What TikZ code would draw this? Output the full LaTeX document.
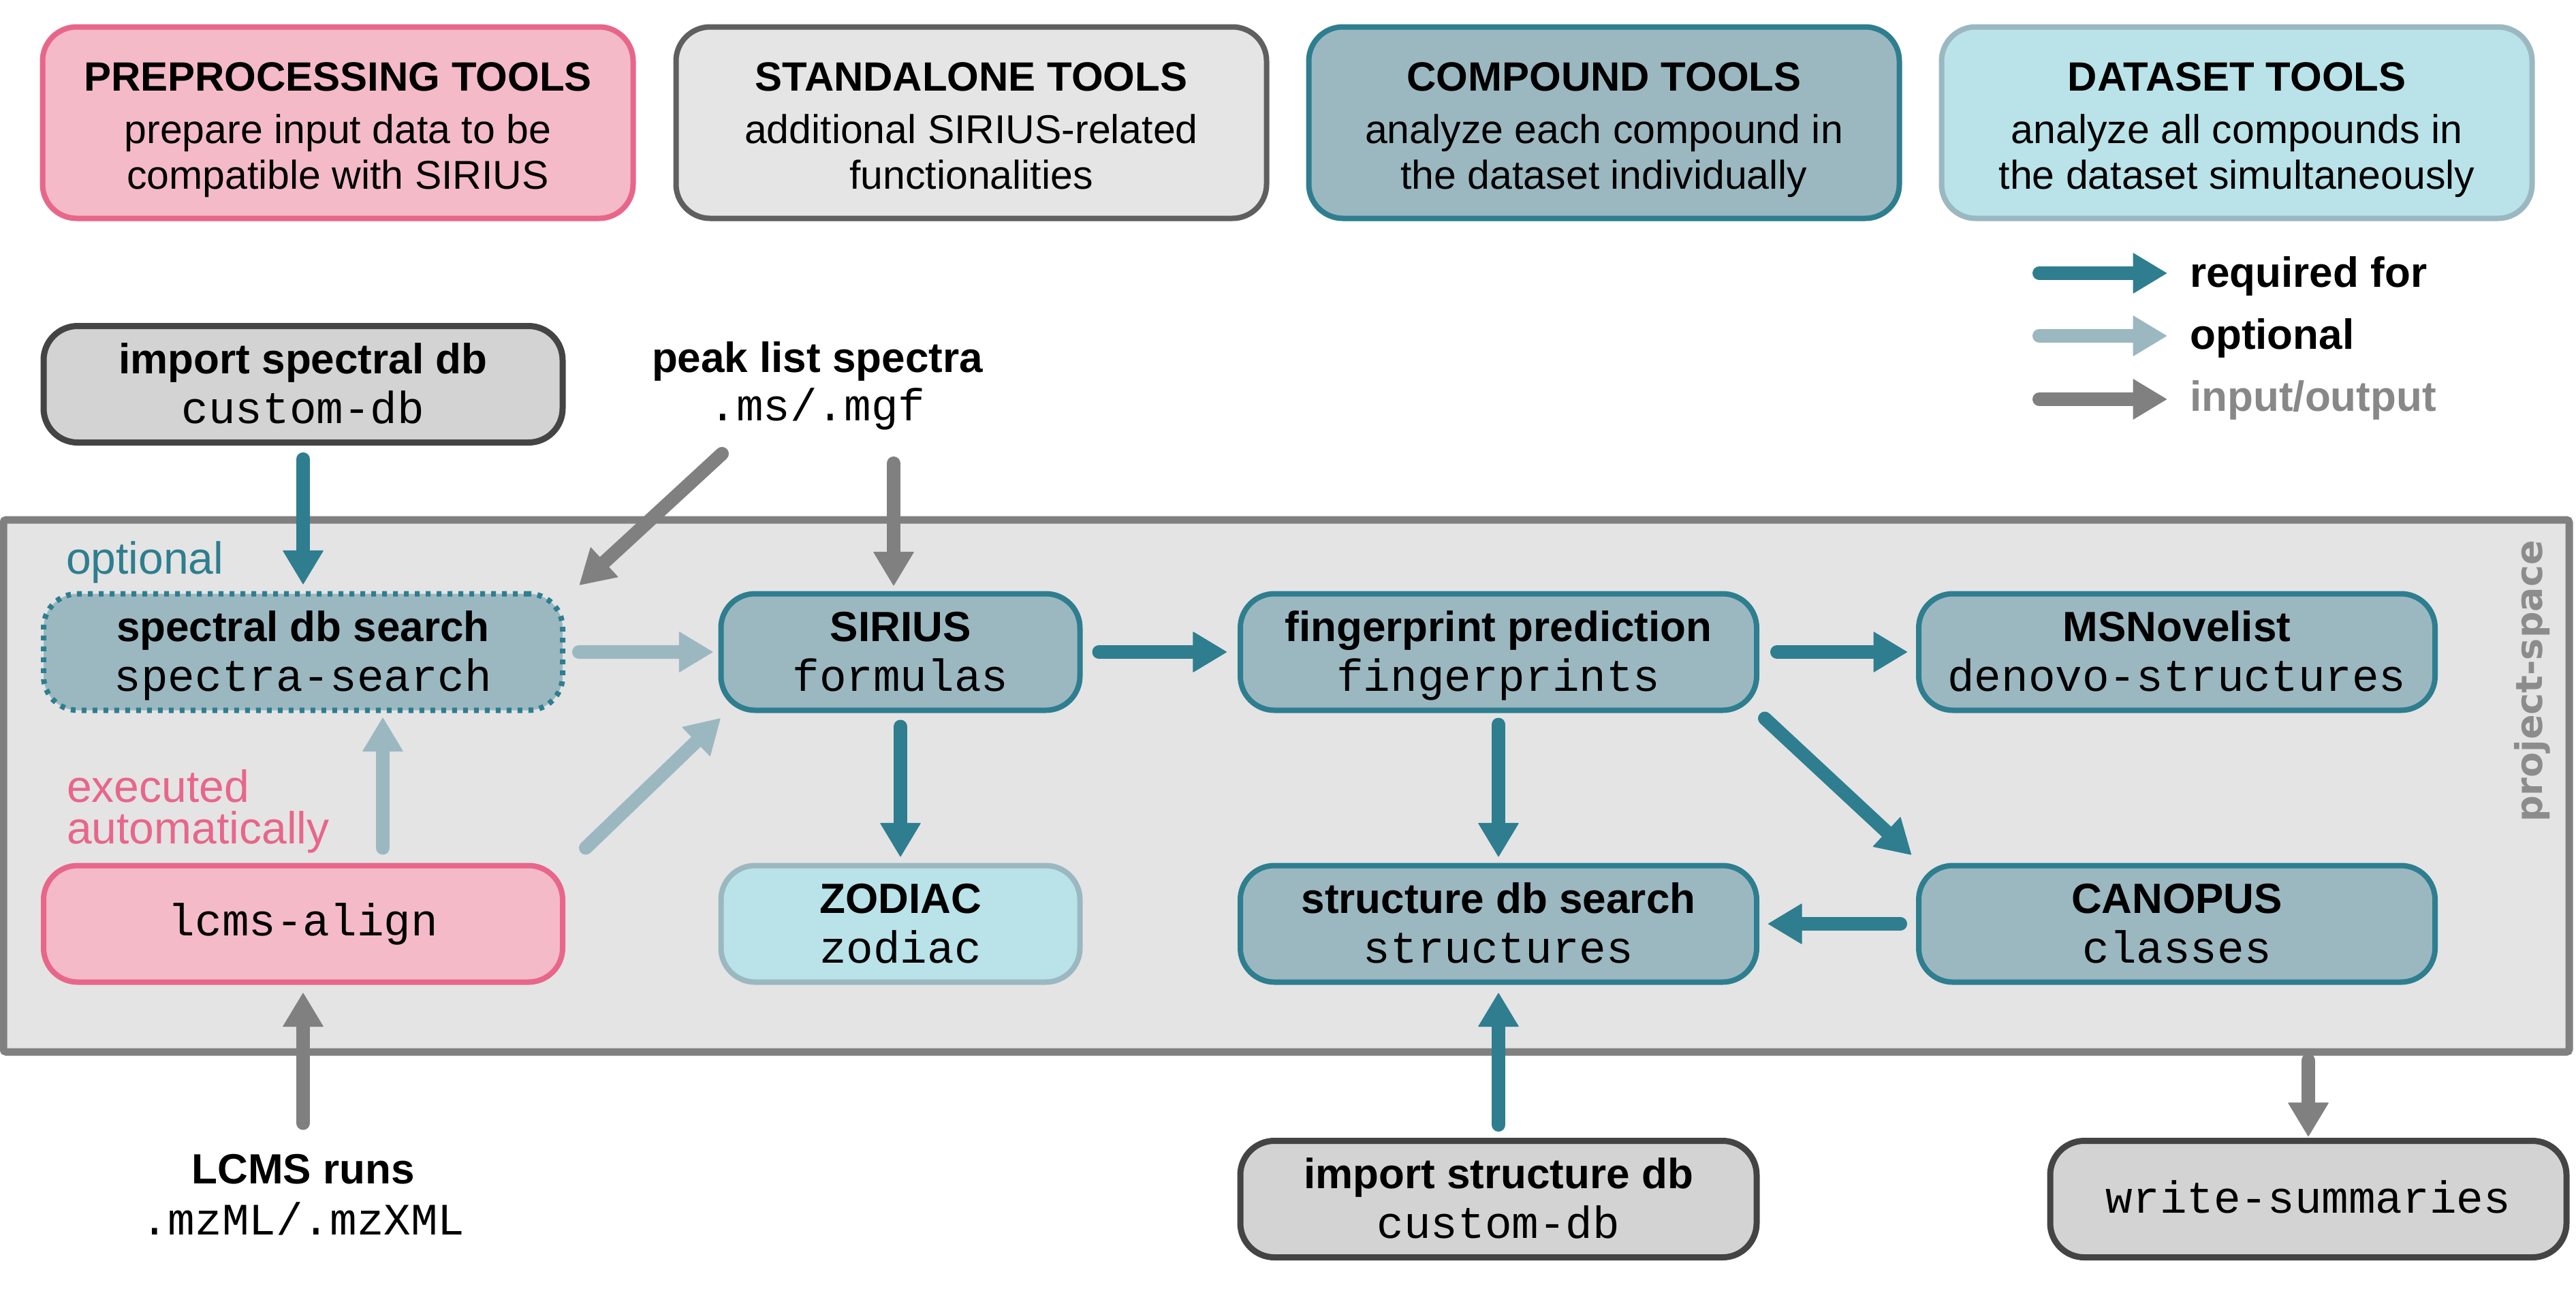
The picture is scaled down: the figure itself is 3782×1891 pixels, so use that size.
\documentclass[tikz,border=0pt]{standalone}
\usepackage{fontspec}
\setmainfont{Liberation Sans}
\newfontfamily\monofont{Liberation Mono}
\newfontfamily\psfamily{DejaVu Sans}
\usetikzlibrary{arrows.meta,calc}
\definecolor{sTeal}{HTML}{2E7E8F}
\definecolor{sLight}{HTML}{9BB8C1}
\definecolor{sData}{HTML}{B9E3E8}
\definecolor{sPink}{HTML}{F4BAC8}
\definecolor{sPinkD}{HTML}{E8668A}
\definecolor{sStandF}{HTML}{E5E5E5}
\definecolor{sStandD}{HTML}{5F5F5F}
\definecolor{sGrayF}{HTML}{D3D3D3}
\definecolor{sGrayD}{HTML}{444444}
\definecolor{sPsF}{HTML}{E4E4E4}
\definecolor{sPsD}{HTML}{808080}
\definecolor{sIO}{HTML}{808080}
\definecolor{sIOText}{HTML}{888888}
\definecolor{sPsT}{HTML}{8C8C8C}
\tikzset{
  box/.style={rectangle, rounded corners=50pt, line width=8pt, inner sep=0pt, minimum height=171pt},
  cmpbox/.style={box, fill=sLight, draw=sTeal},
  databox/.style={box, fill=sData, draw=sLight},
  prebox/.style={box, fill=sPink, draw=sPinkD},
  standbox/.style={box, fill=sStandF, draw=sStandD},
  graybox/.style={box, fill=sGrayF, draw=sGrayD, line width=9pt},
  optbox/.style={box, fill=sLight, draw=sTeal, line width=8pt, dash pattern=on 7pt off 9pt},
  hdrbox/.style={minimum width=867pt, minimum height=281pt},
  ttl/.style={inner sep=0pt, font=\fontsize{62}{70}\selectfont\bfseries},
  mono/.style={inner sep=0pt, font=\fontsize{66}{74}\selectfont\monofont},
  hdrttl/.style={inner sep=0pt, anchor=base, font=\fontsize{60}{70}\selectfont\bfseries},
  hdrdesc/.style={inner sep=0pt, anchor=base, font=\fontsize{59}{68}\selectfont},
  lbl/.style={inner sep=0pt, anchor=base west, font=\fontsize{66}{72}\selectfont},
  legtxt/.style={inner sep=0pt, anchor=base west, font=\fontsize{62}{70}\selectfont\bfseries},
  conn/.style={line width=20pt, line cap=round, -{Triangle[length=50pt,width=60pt,line width=1pt,round]}},
  req/.style={conn, color=sTeal},
  opt/.style={conn, color=sLight},
  io/.style={conn, color=sIO}
}
\newcommand\flowbox[7]{%
  \node[#2, minimum width=#5pt] (#1) at (#3,#4) {};
  \node[ttl, anchor=base] (#1-t) at ($(#1.center)+(0,-16)$) {#6};
  \node[mono, anchor=base] (#1-m) at ($(#1.center)+(0,57)$) {#7};
}
\begin{document}
\begin{tikzpicture}[x=1pt,y=-1pt]
\useasboundingbox (0,0) rectangle (3782,1891);
\fill[white] (0,0) rectangle (3782,1891);

% header boxes
\node[prebox, hdrbox] (h1) at (496,180) {};
\node[hdrttl] (h1t) at (496,133) {PREPROCESSING TOOLS};
\node[hdrdesc] (h1a) at (496,210) {prepare input data to be};
\node[hdrdesc] (h1b) at (496,277) {compatible with SIRIUS};

\node[standbox, hdrbox] (h2) at (1426,180) {};
\node[hdrttl] (h2t) at (1426,133) {STANDALONE TOOLS};
\node[hdrdesc] (h2a) at (1426,210) {additional SIRIUS-related};
\node[hdrdesc] (h2b) at (1426,277) {functionalities};

\node[cmpbox, hdrbox] (h3) at (2355,180) {};
\node[hdrttl] (h3t) at (2355,133) {COMPOUND TOOLS};
\node[hdrdesc] (h3a) at (2355,210) {analyze each compound in};
\node[hdrdesc] (h3b) at (2355,277) {the dataset individually};

\node[databox, hdrbox] (h4) at (3284,180) {};
\node[hdrttl] (h4t) at (3284,133) {DATASET TOOLS};
\node[hdrdesc] (h4a) at (3284,210) {analyze all compounds in};
\node[hdrdesc] (h4b) at (3284,277) {the dataset simultaneously};

% legend
\node[legtxt] (lg1) at (3215,421) {required for};
\node[legtxt] (lg2) at (3215,512) {optional};
\node[legtxt, text=sIOText] (lg3) at (3215,603) {input/output};
\coordinate (lg1s) at (2994,401); \coordinate (lg1e) at (3181,401);
\coordinate (lg2s) at (2994,493); \coordinate (lg2e) at (3181,493);
\coordinate (lg3s) at (2994,586); \coordinate (lg3e) at (3181,586);
\draw[req] (lg1s) -- (lg1e);
\draw[opt] (lg2s) -- (lg2e);
\draw[io] (lg3s) -- (lg3e);

% project space
\node[rectangle, draw=sPsD, fill=sPsF, line width=11pt, rounded corners=4pt,
      minimum width=3767pt, minimum height=781pt, inner sep=0pt] (ps) at (1888.5,1153.5) {};
\node[rotate=90, inner sep=0pt, font=\fontsize{54}{60}\selectfont\psfamily\bfseries, text=sPsT] (pstxt) at (3718,1000) {project-space};

% nodes
\flowbox{imp}{graybox}{445}{564}{762}{import spectral db}{custom-db}
\flowbox{spec}{optbox}{445}{957}{762}{spectral db search}{spectra-search}
\flowbox{sir}{cmpbox}{1322}{957}{527}{SIRIUS}{formulas}
\flowbox{fp}{cmpbox}{2200}{957}{758}{fingerprint prediction}{fingerprints}
\flowbox{msn}{cmpbox}{3196}{957}{758}{MSNovelist}{denovo-structures}
\node[prebox, minimum width=762pt] (lcms) at (445,1356) {};
\node[mono, anchor=base] (lcms-m) at (445,1373) {lcms-align};
\flowbox{zod}{databox}{1322}{1356}{527}{ZODIAC}{zodiac}
\flowbox{str}{cmpbox}{2200}{1356}{758}{structure db search}{structures}
\flowbox{can}{cmpbox}{3196}{1356}{758}{CANOPUS}{classes}
\flowbox{istr}{graybox}{2200}{1760}{758}{import structure db}{custom-db}
\node[graybox, minimum width=758pt] (ws) at (3389,1760) {};
\node[mono, anchor=base] (ws-m) at (3389,1780) {write-summaries};

\node[ttl, anchor=base] (peak) at (1200,546) {peak list spectra};
\node[mono, anchor=base] (peak-m) at (1200,617) {.ms/.mgf};
\node[ttl, anchor=base] (lcmsr) at (445,1737) {LCMS runs};
\node[mono, anchor=base] (lcmsr-m) at (445,1812) {.mzML/.mzXML};

% labels
\node[lbl, text=sTeal] (optlbl) at (97,842) {optional};
\node[lbl, text=sPinkD] (exe1) at (98,1177) {executed};
\node[lbl, text=sPinkD] (exe2) at (98,1238) {automatically};

% connectors
\coordinate (pkA) at (1060,666);
\coordinate (pkB) at (1312,680);
\draw[req, shorten <=20pt, shorten >=10pt] (imp) -- (spec);
\draw[io] (pkA) -- ($(spec.north east)+(21,-9)$);
\draw[io, shorten >=8pt] (pkB) -- (pkB |- sir.north);
\draw[opt, shorten <=20pt, shorten >=8pt] (spec) -- (sir);
\draw[opt, shorten <=22pt, shorten >=7pt] ([xshift=117pt]lcms.north) -- ([xshift=117pt]spec.south);
\draw[opt] ($(lcms.north east)+(30,-22)$) -- ($(sir.south west)+(3,8)$);
\draw[req, shorten <=24pt, shorten >=16pt] (sir) -- (fp);
\draw[req, shorten <=20pt, shorten >=9pt] (sir) -- (zod);
\draw[req, shorten <=26pt, shorten >=13pt] (fp) -- (msn);
\draw[req, shorten <=17pt, shorten >=9pt] (fp) -- (str);
\draw[req] ($(fp.south east)+(8,8)$) -- ($(can.north west)+(-7,-12)$);
\draw[req, shorten <=23pt, shorten >=13pt] (can) -- (str);
\draw[io, shorten <=45pt, shorten >=12pt] (lcmsr.north) -- (lcmsr.north |- lcms.south);
\draw[req, shorten <=19pt, shorten >=12pt] (istr) -- (str);
\draw[io, shorten <=7pt, shorten >=2pt] (ws.north |- ps.south) -- (ws.north);
\end{tikzpicture}
\end{document}
